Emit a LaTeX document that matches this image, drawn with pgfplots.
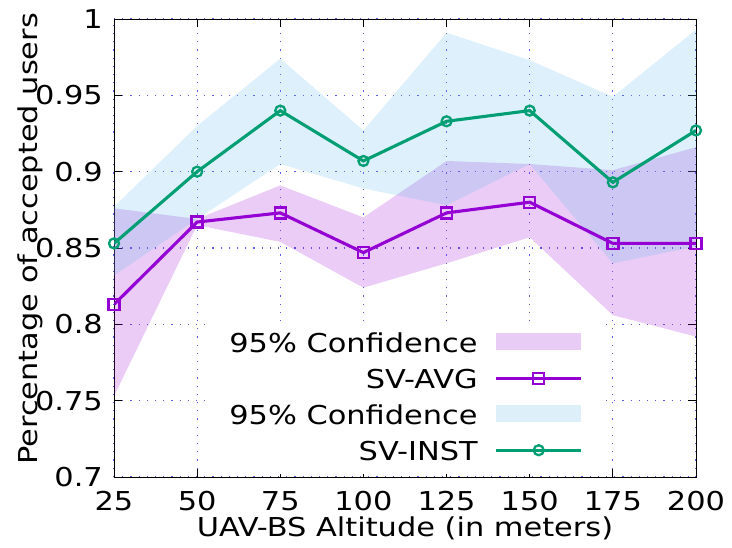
\documentclass[border=0pt]{standalone}
\usepackage{pgfplots}
\usepackage{pgfplotstable}
\pgfplotsset{compat=1.18}
\usepgfplotslibrary{fillbetween}
\usepackage{fontspec}
\setmainfont{DejaVu Sans}[FakeStretch=1.17]

\definecolor{cavg}{HTML}{9400D3}
\definecolor{cinst}{HTML}{009E73}
\definecolor{cband}{HTML}{56B4E9}
\definecolor{cgrid}{RGB}{90,90,235}
\newcommand\bigf{\fontsize{26bp}{31bp}\selectfont}

% altitude, SV-AVG with 95% band, SV-INST with 95% band
\pgfplotstableread{
x   avg   avglo avghi inst  instlo insthi
25  0.813 0.753 0.876 0.853 0.832  0.877
50  0.867 0.865 0.869 0.900 0.869  0.930
75  0.873 0.854 0.891 0.940 0.905  0.974
100 0.847 0.824 0.870 0.907 0.889  0.927
125 0.873 0.840 0.907 0.933 0.878  0.991
150 0.880 0.857 0.905 0.940 0.905  0.973
175 0.853 0.806 0.901 0.893 0.840  0.949
200 0.853 0.792 0.916 0.927 0.851  0.993
}\data

\begin{document}
\begin{tikzpicture}
\begin{axis}[
    at={(0,0)}, anchor=south west,
    width=582bp, height=458bp, scale only axis,
    xmin=25, xmax=200, ymin=0.7, ymax=1,
    xtick={25,50,75,100,125,150,175,200},
    xticklabels={25,50,75,100,125,150,175,200},
    ytick={0.7,0.75,0.8,0.85,0.9,0.95,1},
    yticklabels={0.7,0.75,0.8,0.85,0.9,0.95,1},
    /pgf/number format/assume math mode=true,
    tick align=inside, major tick length=8bp,
    tick style={black, line width=0.9bp},
    axis line style={black, line width=0.9bp},
    grid=major,
    grid style={cgrid, line width=1.2bp, dash pattern=on 1.2bp off 7bp},
    ticklabel style={font=\bigf},
    xticklabel style={anchor=base, inner sep=0pt, yshift=-33bp},
    yticklabel style={anchor=east, inner sep=0pt, xshift=-11bp},
    xlabel={UAV-BS Altitude (in meters)},
    ylabel={Percentage of accepted users},
    label style={font=\bigf},
    xlabel style={at={(axis description cs:0.5,0)}, anchor=base, yshift=-59bp},
    ylabel style={at={(axis description cs:-0.1323,0.52)}, anchor=base},
    legend plot pos=right,
    legend cell align=right,
    legend style={at={(axis description cs:0.835,0.334)}, anchor=north east,
        draw=none, fill=white, inner xsep=17bp, inner ysep=9bp,
        font=\bigf, row sep=12bp, column sep=17bp,
        nodes={font=\bigf, inner sep=0pt, text height=19bp, text depth=5bp}},
]

\addplot[name path=avghi, draw=none, forget plot] table[x=x, y=avghi] {\data};
\addplot[name path=avglo, draw=none, forget plot] table[x=x, y=avglo] {\data};
\addplot[fill=cavg, fill opacity=0.2, draw=none,
    legend image code/.code={\fill (0bp,-5bp) rectangle (85bp,12bp);}]
    fill between[of=avghi and avglo];
\addlegendentry{95\% Confidence}

\addplot[cavg, line width=3.1bp, mark=square, mark size=5.5bp,
    mark options={line width=2.3bp},
    legend image code/.code={\draw[mark repeat=2, mark phase=2]
        plot coordinates {(0bp,3bp)(42.5bp,3bp)(85bp,3bp)};}]
    table[x=x, y=avg] {\data};
\addlegendentry{SV-AVG}

\addplot[name path=insthi, draw=none, forget plot] table[x=x, y=insthi] {\data};
\addplot[name path=instlo, draw=none, forget plot] table[x=x, y=instlo] {\data};
\addplot[fill=cband, fill opacity=0.2, draw=none,
    legend image code/.code={\fill (0bp,-5bp) rectangle (85bp,12bp);}]
    fill between[of=insthi and instlo];
\addlegendentry{95\% Confidence}

\addplot[cinst, line width=3.1bp, mark=o, mark size=5bp,
    mark options={line width=2.3bp},
    legend image code/.code={\draw[mark repeat=2, mark phase=2]
        plot coordinates {(0bp,3bp)(42.5bp,3bp)(85bp,3bp)};}]
    table[x=x, y=inst] {\data};
\addlegendentry{SV-INST}

\end{axis}
\pgfresetboundingbox
\path[use as bounding box] (-114bp,-71bp) rectangle (618bp,477bp);
\end{tikzpicture}
\end{document}
